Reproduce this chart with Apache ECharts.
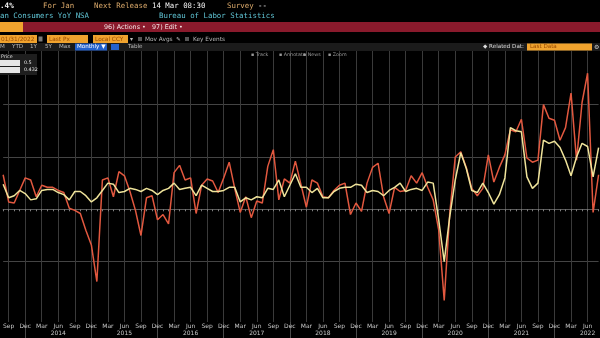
<!DOCTYPE html>
<html>
<head>
<meta charset="utf-8">
<script src="https://cdn.jsdelivr.net/npm/echarts@6/dist/echarts.min.js"></script>
<style>
html,body{margin:0;padding:0;background:#000;}
#c{width:600px;height:338px;}
</style>
</head>
<body>
<div id="c"></div>
<script>
// ---- data ----
const months = [
 '2013-08','2013-09','2013-10','2013-11','2013-12',
 '2014-01','2014-02','2014-03','2014-04','2014-05','2014-06','2014-07','2014-08','2014-09','2014-10','2014-11','2014-12',
 '2015-01','2015-02','2015-03','2015-04','2015-05','2015-06','2015-07','2015-08','2015-09','2015-10','2015-11','2015-12',
 '2016-01','2016-02','2016-03','2016-04','2016-05','2016-06','2016-07','2016-08','2016-09','2016-10','2016-11','2016-12',
 '2017-01','2017-02','2017-03','2017-04','2017-05','2017-06','2017-07','2017-08','2017-09','2017-10','2017-11','2017-12',
 '2018-01','2018-02','2018-03','2018-04','2018-05','2018-06','2018-07','2018-08','2018-09','2018-10','2018-11','2018-12',
 '2019-01','2019-02','2019-03','2019-04','2019-05','2019-06','2019-07','2019-08','2019-09','2019-10','2019-11','2019-12',
 '2020-01','2020-02','2020-03','2020-04','2020-05','2020-06','2020-07','2020-08','2020-09','2020-10','2020-11','2020-12',
 '2021-01','2021-02','2021-03','2021-04','2021-05','2021-06','2021-07','2021-08','2021-09','2021-10','2021-11','2021-12',
 '2022-01','2022-02','2022-03','2022-04','2022-05','2022-06','2022-07','2022-08'
];
const redSeries = [
 0.33, 0.07, 0.06, 0.18, 0.30,
 0.28, 0.12, 0.23, 0.21, 0.21, 0.18, 0.16, 0.01, -0.01, -0.04, -0.20, -0.34,
 -0.69, 0.28, 0.30, 0.12, 0.36, 0.32, 0.17, -0.01, -0.25, 0.11, 0.13, -0.10,
 -0.05, -0.14, 0.35, 0.42, 0.28, 0.30, -0.04, 0.23, 0.29, 0.27, 0.16, 0.30,
 0.45, 0.20, -0.03, 0.12, -0.08, 0.08, 0.06, 0.41, 0.57, 0.09, 0.29, 0.25,
 0.46, 0.24, 0.02, 0.28, 0.25, 0.12, 0.11, 0.18, 0.23, 0.25, -0.05, 0.06,
 -0.02, 0.25, 0.40, 0.44, 0.12, -0.04, 0.21, 0.17, 0.18, 0.32, 0.25, 0.35,
 0.21, 0.09, -0.20, -0.87, -0.04, 0.50, 0.55, 0.40, 0.20, 0.13, 0.20, 0.52,
 0.26, 0.40, 0.52, 0.76, 0.74, 0.86, 0.49, 0.45, 0.47, 1.00, 0.87, 0.85,
 0.66, 0.78, 1.11, 0.47, 1.02, 1.30, -0.03, 0.33
];
const yellowSeries = [
 0.24, 0.11, 0.13, 0.18, 0.15,
 0.09, 0.10, 0.18, 0.19, 0.19, 0.16, 0.14, 0.09, 0.17, 0.17, 0.13, 0.07,
 0.11, 0.18, 0.25, 0.24, 0.16, 0.17, 0.20, 0.19, 0.17, 0.20, 0.18, 0.14,
 0.18, 0.20, 0.25, 0.19, 0.20, 0.21, 0.13, 0.23, 0.20, 0.17, 0.17, 0.18,
 0.21, 0.21, 0.07, 0.11, 0.09, 0.12, 0.11, 0.20, 0.19, 0.28, 0.12, 0.23,
 0.34, 0.21, 0.21, 0.16, 0.20, 0.11, 0.11, 0.17, 0.20, 0.21, 0.21, 0.24,
 0.23, 0.16, 0.18, 0.17, 0.13, 0.18, 0.21, 0.25, 0.17, 0.19, 0.20, 0.18,
 0.26, 0.25, -0.10, -0.50, -0.07, 0.28, 0.54, 0.39, 0.18, 0.16, 0.25, 0.16,
 0.05, 0.14, 0.30, 0.78, 0.75, 0.74, 0.31, 0.20, 0.25, 0.66, 0.63, 0.65,
 0.59, 0.47, 0.32, 0.50, 0.63, 0.60, 0.31, 0.59
];
const monthNames = ['Jan','Feb','Mar','Apr','May','Jun','Jul','Aug','Sep','Oct','Nov','Dec'];
const gridLevels = [-0.5, 0, 0.5, 1.0];
const yMin = -1.0764, yMax = 1.5215;

// ---- header texts ----
const MONO = '"DejaVu Sans Mono", monospace';
const SANS = '"DejaVu Sans", sans-serif';
function txt(x, y, text, fill, size, font, weight) {
  return {type:'text', x:x, y:y, z:100, silent:true,
    style:{text:text, fill:fill, font:(weight||'normal')+' '+size+'px '+(font||MONO), verticalAlign:'middle', align:'left'}};
}
function rect(x, y, w, h, fill) {
  return {type:'rect', z:90, silent:true, shape:{x:x, y:y, width:w, height:h}, style:{fill:fill}};
}
const TAN = '#d9a86a', WHITE = '#f4f4f4', CYAN = '#5fc3d3', ORANGE = '#f0a32e', BOXTXT = '#9a4a00';
const graphics = [
  // row 1
  txt(0, 6.5, '.4%', WHITE, 7.6, MONO, 'bold'),
  txt(43, 6.5, 'For Jan', TAN, 7.4),
  txt(94, 6.5, 'Next Release', TAN, 7.4),
  txt(152, 6.5, '14 Mar 08:30', WHITE, 7.4),
  txt(227, 6.5, 'Survey', TAN, 7.4),
  txt(258, 6.5, '--', WHITE, 7.4),
  // row 2
  txt(0, 16.5, 'an Consumers YoY NSA', CYAN, 7.4),
  txt(159, 16.5, 'Bureau of Labor Statistics', CYAN, 7.4),
  // row 3 red bar
  rect(0, 22, 600, 10, '#8a1a2c'),
  rect(0, 22, 23, 10, ORANGE),
  txt(104, 27, '96) Actions \u2022', '#f4e6e6', 6.4, SANS),
  txt(152, 27, '97) Edit \u2022', '#f4e6e6', 6.4, SANS),
  // row 4
  rect(0, 35, 37, 8, ORANGE), txt(1, 39, '01/31/2022', BOXTXT, 5.8, SANS),
  rect(38.5, 36.5, 4, 5, '#7a7a7a'),
  rect(47, 35, 41, 8, ORANGE), txt(49, 39, 'Last Px', BOXTXT, 5.8, SANS),
  rect(93, 35, 35, 8, ORANGE), txt(95, 39, 'Local CCY', BOXTXT, 5.8, SANS),
  txt(130, 39, '\u25BE', '#bbbbbb', 6, SANS),
  rect(138, 37, 4, 4, '#555555'), txt(145, 39, 'Mov Avgs', '#b8b8b8', 5.8, SANS),
  txt(176, 39, '\u270E', '#b8b8b8', 5.8, SANS),
  rect(185, 37, 4, 4, '#555555'), txt(193, 39, 'Key Events', '#b8b8b8', 5.8, SANS),
  // row 5
  rect(0, 43, 600, 8, '#1b1b1b'),
  txt(0, 47, 'M', '#b8b8b8', 5.6, SANS),
  txt(12, 47, 'YTD', '#b8b8b8', 5.6, SANS),
  txt(30, 47, '1Y', '#b8b8b8', 5.6, SANS),
  txt(45, 47, '5Y', '#b8b8b8', 5.6, SANS),
  txt(59, 47, 'Max', '#b8b8b8', 5.6, SANS),
  rect(75, 43.5, 32, 7, '#2461cc'), txt(77, 47, 'Monthly \u25BC', '#ffffff', 5.6, SANS),
  rect(111, 44, 8, 6, '#2461cc'),
  txt(128, 47, 'Table', '#b8b8b8', 5.6, SANS),
  txt(483, 47, '\u25C6 Related Dat:', '#dddddd', 5.6, SANS),
  rect(527, 43.5, 65, 7, ORANGE), txt(530, 47, 'Last Data', BOXTXT, 5.6, SANS),
  txt(594, 47, '\u2699', '#cccccc', 6, SANS),
  // row 6
  txt(251, 55, '\u25AA Track', '#9a9a9a', 4.8, SANS),
  txt(279, 55, '\u25AA Annotate', '#9a9a9a', 4.8, SANS),
  txt(303, 55, '\u25AA News', '#9a9a9a', 4.8, SANS),
  txt(328, 55, '\u25AA Zoom', '#9a9a9a', 4.8, SANS),
  // legend
  rect(0, 54, 37, 21, '#1e1e1e'),
  txt(1, 57, 'Price', '#dddddd', 4.8, SANS),
  rect(0, 60, 20, 6, '#e6e6e6'),
  rect(0, 67, 20, 6, '#e6e6e6'),
  txt(24, 63, '0.5', '#eeeeee', 4.8, SANS),
  txt(24, 70, '0.432', '#eeeeee', 4.8, SANS)
];

const isQuarter = (i, v) => ['03','06','09','12'].indexOf(String(v).slice(5)) >= 0;
const isDec = (i, v) => String(v).slice(5) === '12';

const chart = echarts.init(document.getElementById('c'), null, {renderer:'canvas'});
chart.setOption({
  backgroundColor: '#000000',
  animation: false,
  grid: {left: -1.45, right: 1.4, top: 50, bottom: 16},
  xAxis: [{
    type: 'category', data: months, boundaryGap: false, position: 'bottom',
    axisLine: {show: true, lineStyle: {color: '#5a5a5a', width: 1}},
    axisTick: {show: true, interval: 0, length: 2, lineStyle: {color: '#808080'}},
    axisLabel: {
      show: true, interval: isQuarter, color: '#c8c8c8', fontSize: 6, lineHeight: 7,
      margin: 1, fontFamily: SANS,
      formatter: v => {
        const p = v.split('-');
        const n = monthNames[parseInt(p[1], 10) - 1];
        return p[1] === '06' ? n + '\n' + p[0] : n;
      }
    },
    splitLine: {show: true, interval: isQuarter, lineStyle: {color: '#3a3a3a', width: 1}}
  }, {
    type: 'category', data: months, boundaryGap: false, position: 'bottom', offset: 0,
    axisLine: {show: false},
    axisTick: {show: true, interval: isDec, length: 16, lineStyle: {color: '#4a4a4a'}},
    axisLabel: {show: false},
    splitLine: {show: false}
  }],
  yAxis: {
    type: 'value', min: yMin, max: yMax,
    axisLine: {show: false}, axisLabel: {show: false},
    axisTick: {show: false, customValues: gridLevels},
    splitLine: {show: true, lineStyle: {color: '#444444', width: 1}}
  },
  series: [{
    type: 'line', data: redSeries, symbol: 'none', xAxisIndex: 0,
    lineStyle: {color: '#e2583f', width: 1.5}, z: 3
  }, {
    type: 'line', data: yellowSeries, symbol: 'none', xAxisIndex: 0,
    lineStyle: {color: '#efe39a', width: 1.5}, z: 4
  }],
  graphic: {elements: graphics}
});
</script>
</body>
</html>
